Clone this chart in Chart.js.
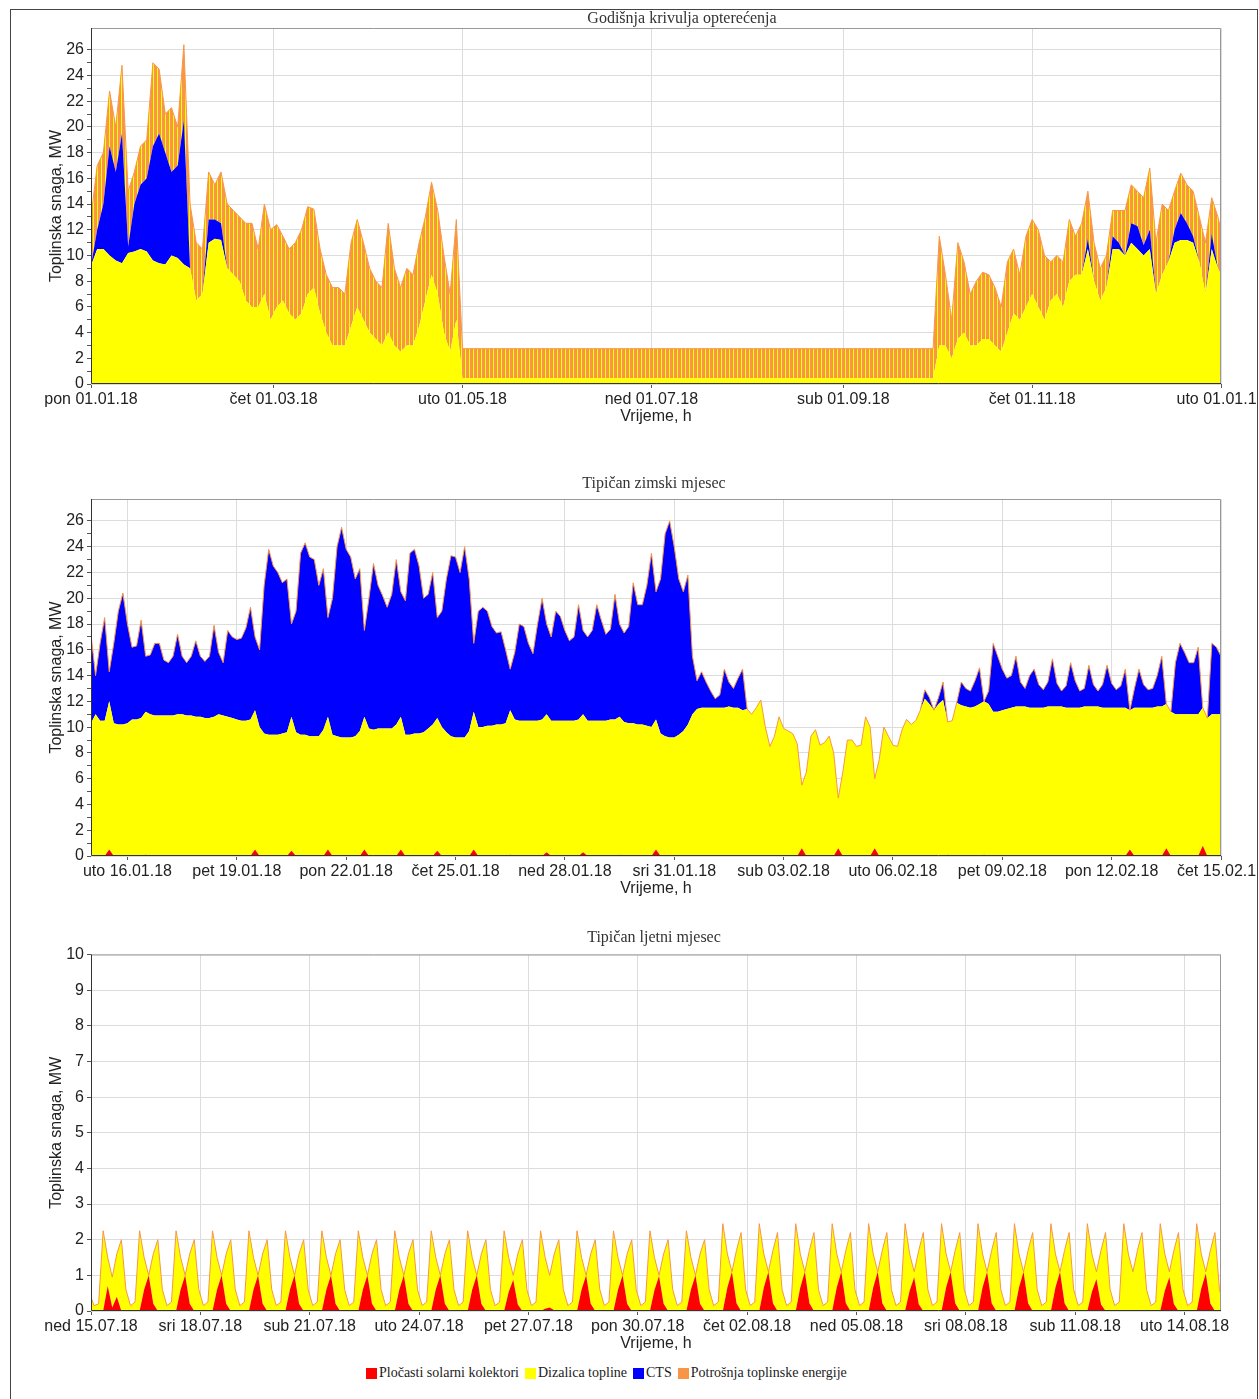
<!DOCTYPE html>
<html>
<head>
    <meta charset="utf-8">
    <title>Krivulje opterećenja</title>
    <script src="https://cdn.jsdelivr.net/npm/chart.js@4.4.1/dist/chart.umd.min.js"></script>
    <style>
        body {
            margin: 0;
            background: #fff;
            width: 1259px;
            height: 1399px;
            overflow: hidden;
        }
        .graf {
            position: absolute;
            left: 10px;
            width: 1247px;
        }
        #g1 { top: 9px; height: 421px; }
        #g2 { top: 470px; height: 432px; }
        #g3 { top: 925px; height: 432px; }
        #okvir {
            position: absolute;
            left: 10px;
            top: 9px;
            width: 1246px;
            height: 1400px;
            border: 1px solid #444;
            pointer-events: none;
        }
        #legenda {
            position: absolute;
            left: 366px;
            top: 1365px;
            display: flex;
            align-items: center;
            font: 14px 'Liberation Serif', 'Times New Roman', serif;
            color: #222;
            white-space: nowrap;
        }
        #legenda .kv {
            display: inline-block;
            width: 11px;
            height: 11px;
            margin-right: 2px;
        }
        #legenda .tx {
            margin-right: 6px;
        }
    </style>
</head>
<body>
    <div class="graf" id="g1"><canvas id="godisnja"></canvas></div>
    <div class="graf" id="g2"><canvas id="zima"></canvas></div>
    <div class="graf" id="g3"><canvas id="ljeto"></canvas></div>
    <div id="legenda"></div>
    <div id="okvir"></div>

    <script>
        const CRVENA = '#ff0000';
        const ZUTA = '#ffff00';
        const PLAVA = '#0000ff';
        const NARANCASTA = '#f79646';

        // Godišnja krivulja: vrijednost svaka 2 dana, dan 0 = 01.01.18
        const godDizalica = [
            9.2, 10.5, 10.5, 10.0, 9.6, 9.4, 10.2, 10.3, 10.5, 10.3,
            9.6, 9.4, 9.3, 10.0, 9.8, 9.3, 9.0, 6.5, 7.0, 11.0,
            11.3, 11.2, 9.0, 8.5, 8.0, 6.5, 6.0, 6.0, 7.0, 5.0,
            6.0, 6.5, 5.5, 5.0, 5.5, 7.0, 7.5, 5.5, 4.0, 3.0,
            3.0, 3.0, 4.5, 6.0, 5.0, 4.0, 3.5, 3.0, 4.0, 3.0,
            2.5, 3.0, 3.0, 4.5, 6.5, 8.5, 7.0, 4.0, 2.5, 5.0,
            0.45, 0.45, 0.45, 0.45, 0.45, 0.45, 0.45, 0.45, 0.45, 0.45,
            0.45, 0.45, 0.45, 0.45, 0.45, 0.45, 0.45, 0.45, 0.45, 0.45,
            0.45, 0.45, 0.45, 0.45, 0.45, 0.45, 0.45, 0.45, 0.45, 0.45,
            0.45, 0.45, 0.45, 0.45, 0.45, 0.45, 0.45, 0.45, 0.45, 0.45,
            0.45, 0.45, 0.45, 0.45, 0.45, 0.45, 0.45, 0.45, 0.45, 0.45,
            0.45, 0.45, 0.45, 0.45, 0.45, 0.45, 0.45, 0.45, 0.45, 0.45,
            0.45, 0.45, 0.45, 0.45, 0.45, 0.45, 0.45, 0.45, 0.45, 0.45,
            0.45, 0.45, 0.45, 0.45, 0.45, 0.45, 0.45,
            3.0, 3.0, 2.0, 3.5, 4.0, 3.0, 3.0, 3.5, 3.5, 3.0,
            2.5, 4.0, 5.5, 5.0, 6.0, 7.0, 6.0, 5.0, 6.5, 7.0,
            6.0, 8.0, 8.5, 8.5, 10.5, 8.0, 6.5, 7.5, 10.5, 10.5,
            10.0, 11.0, 10.5, 10.0, 10.5, 7.0, 8.5, 9.5, 11.0, 11.2,
            11.2, 11.0, 9.5, 7.0, 10.5, 9.0, 8.0
        ];
        const godCTS = [
            0, 1.5, 3.5, 8.5, 6.9, 10.1, 0.5, 3.7, 5.0, 5.7,
            8.9, 10.1, 8.7, 6.5, 7.2, 11.2, 0, 0, 0, 1.8,
            1.5, 1.3, 0, 0, 0, 0, 0, 0, 0, 0,
            0, 0, 0, 0, 0, 0, 0, 0, 0, 0,
            0, 0, 0, 0, 0, 0, 0, 0, 0, 0,
            0, 0, 0, 0, 0, 0, 0, 0, 0, 0,
            0, 0, 0, 0, 0, 0, 0, 0, 0, 0,
            0, 0, 0, 0, 0, 0, 0, 0, 0, 0,
            0, 0, 0, 0, 0, 0, 0, 0, 0, 0,
            0, 0, 0, 0, 0, 0, 0, 0, 0, 0,
            0, 0, 0, 0, 0, 0, 0, 0, 0, 0,
            0, 0, 0, 0, 0, 0, 0, 0, 0, 0,
            0, 0, 0, 0, 0, 0, 0, 0, 0, 0,
            0, 0, 0, 0, 0, 0, 0,
            0, 0, 0, 0, 0, 0, 0, 0, 0, 0,
            0, 0, 0, 0, 0, 0, 0, 0, 0, 0,
            0, 0, 0, 0, 0.8, 0, 0, 0, 1.0, 0.5,
            0, 1.5, 1.8, 0.8, 1.5, 0, 0, 0, 1.0, 2.1,
            1.3, 0.5, 0, 0, 1.2, 0, 0
        ];
        const godPotrosnja = [
            13.0, 17.0, 18.0, 22.8, 20.0, 24.8, 15.0, 16.5, 18.5, 19.0,
            25.0, 24.5, 21.0, 21.5, 20.0, 26.4, 14.0, 11.0, 10.5, 16.5,
            15.5, 16.5, 14.0, 13.5, 13.0, 12.5, 12.5, 10.5, 14.0, 12.0,
            12.4, 11.5, 10.5, 11.0, 12.0, 13.8, 13.6, 10.5, 8.5, 7.5,
            7.5, 7.0, 11.0, 12.8, 11.0, 9.0, 8.0, 7.5, 12.5, 9.0,
            7.5, 9.0, 8.5, 11.0, 13.0, 15.7, 13.5, 10.0, 7.0, 12.8,
            2.75, 2.75, 2.75, 2.75, 2.75, 2.75, 2.75, 2.75, 2.75, 2.75,
            2.75, 2.75, 2.75, 2.75, 2.75, 2.75, 2.75, 2.75, 2.75, 2.75,
            2.75, 2.75, 2.75, 2.75, 2.75, 2.75, 2.75, 2.75, 2.75, 2.75,
            2.75, 2.75, 2.75, 2.75, 2.75, 2.75, 2.75, 2.75, 2.75, 2.75,
            2.75, 2.75, 2.75, 2.75, 2.75, 2.75, 2.75, 2.75, 2.75, 2.75,
            2.75, 2.75, 2.75, 2.75, 2.75, 2.75, 2.75, 2.75, 2.75, 2.75,
            2.75, 2.75, 2.75, 2.75, 2.75, 2.75, 2.75, 2.75, 2.75, 2.75,
            2.75, 2.75, 2.75, 2.75, 2.75, 2.75, 2.75,
            11.5, 8.5, 5.0, 11.0, 9.5, 7.0, 8.0, 8.7, 8.5, 7.5,
            6.0, 9.5, 10.5, 8.5, 11.5, 12.8, 12.0, 10.0, 9.5, 10.0,
            9.5, 12.8, 11.5, 12.5, 15.0, 11.0, 9.0, 10.0, 13.5, 13.5,
            13.5, 15.5, 15.0, 14.5, 16.8, 11.0, 14.0, 13.5, 15.0, 16.4,
            15.5, 15.0, 13.0, 11.0, 14.5, 13.0, 11.0
        ];
        const godTickovi = [0, 59, 120, 181, 243, 304, 365];
        const godOznake = ['pon 01.01.18', 'čet 01.03.18', 'uto 01.05.18', 'ned 01.07.18',
            'sub 01.09.18', 'čet 01.11.18', 'uto 01.01.19'];

        // Tipičan zimski mjesec: svaka 3 sata od 15.01.18 00:00 (8 vrijednosti po danu)
        const zimaSolar = [
            0, 0, 0, 0, 0.5, 0, 0, 0,
            0, 0, 0, 0, 0.1, 0, 0, 0,
            0, 0, 0, 0, 0, 0, 0, 0,
            0, 0, 0, 0, 0, 0, 0, 0,
            0, 0, 0, 0, 0.5, 0, 0, 0,
            0, 0, 0, 0, 0.4, 0, 0, 0,
            0, 0, 0, 0, 0.5, 0, 0, 0,
            0, 0, 0, 0, 0.5, 0, 0, 0,
            0, 0, 0, 0, 0.5, 0, 0, 0,
            0, 0, 0, 0, 0.4, 0, 0, 0,
            0, 0, 0, 0, 0.5, 0, 0, 0,
            0, 0, 0, 0, 0.1, 0, 0, 0,
            0, 0, 0, 0, 0.3, 0, 0, 0,
            0, 0, 0, 0, 0.3, 0, 0, 0,
            0, 0, 0, 0, 0.1, 0, 0, 0,
            0, 0, 0, 0, 0.5, 0, 0, 0,
            0, 0, 0, 0, 0, 0, 0, 0,
            0, 0, 0, 0, 0, 0, 0, 0,
            0, 0, 0, 0, 0, 0, 0, 0,
            0, 0, 0, 0, 0.6, 0, 0, 0,
            0, 0, 0, 0, 0.6, 0, 0, 0,
            0, 0, 0, 0, 0.6, 0, 0, 0,
            0, 0, 0, 0, 0, 0, 0, 0,
            0, 0, 0, 0, 0.1, 0, 0, 0,
            0, 0, 0, 0, 0.1, 0, 0, 0,
            0, 0, 0, 0, 0, 0, 0, 0,
            0, 0, 0, 0, 0, 0, 0, 0,
            0, 0, 0, 0, 0, 0, 0, 0,
            0, 0, 0, 0, 0.5, 0, 0, 0,
            0, 0, 0, 0, 0.6, 0, 0, 0,
            0, 0, 0, 0, 0.8, 0, 0, 0,
            0
        ];
        const zimaDizalica = [
            10.3, 11.0, 10.5, 10.5, 11.5, 10.3, 10.2, 10.2,
            10.3, 10.6, 10.6, 10.7, 11.1, 11.0, 10.9, 10.9,
            10.9, 10.9, 10.9, 11.0, 11.0, 10.9, 10.9, 10.8,
            10.8, 10.7, 10.7, 10.8, 11.0, 10.9, 10.8, 10.7,
            10.6, 10.5, 10.5, 10.6, 10.8, 10.0, 9.5, 9.4,
            9.4, 9.4, 9.5, 9.6, 10.4, 9.6, 9.4, 9.4,
            9.3, 9.3, 9.3, 9.8, 10.3, 9.4, 9.3, 9.2,
            9.2, 9.2, 9.3, 9.7, 10.3, 9.9, 9.8, 9.9,
            9.9, 9.9, 9.9, 10.2, 10.3, 9.4, 9.4, 9.5,
            9.5, 9.6, 9.9, 10.2, 10.3, 10.0, 9.6, 9.3,
            9.2, 9.2, 9.2, 9.7, 10.7, 10.0, 10.0, 10.1,
            10.1, 10.2, 10.2, 10.3, 11.2, 10.6, 10.5, 10.5,
            10.5, 10.5, 10.5, 10.6, 10.7, 10.5, 10.5, 10.5,
            10.5, 10.5, 10.5, 10.6, 10.7, 10.5, 10.5, 10.5,
            10.5, 10.5, 10.6, 10.6, 10.7, 10.4, 10.3, 10.3,
            10.2, 10.2, 10.1, 10.0, 10.1, 9.5, 9.3, 9.2,
            9.2, 9.4, 9.7, 10.2, 11.0, 11.4, 11.5, 11.5,
            11.5, 11.5, 11.5, 11.5, 11.6, 11.5, 11.5, 11.3,
            11.4, 11.0, 11.5, 12.1, 10.0, 8.5, 9.3, 10.8,
            9.9, 9.7, 9.5, 8.7, 4.9, 6.5, 9.3, 9.8,
            8.6, 8.8, 9.3, 8.0, 3.9, 6.5, 9.0, 9.0,
            8.5, 8.6, 10.8, 10.0, 5.4, 7.5, 10.0, 9.3,
            8.6, 8.5, 9.8, 10.6, 10.2, 10.5, 11.3, 12.2,
            11.8, 11.3, 11.8, 12.1, 10.3, 10.5, 11.9, 11.7,
            11.6, 11.5, 11.6, 11.8, 11.9, 11.8, 11.2, 11.2,
            11.3, 11.4, 11.5, 11.6, 11.6, 11.6, 11.5, 11.5,
            11.5, 11.5, 11.6, 11.6, 11.6, 11.6, 11.5, 11.5,
            11.5, 11.5, 11.6, 11.6, 11.6, 11.6, 11.5, 11.5,
            11.5, 11.5, 11.5, 11.5, 10.8, 11.5, 11.5, 11.5,
            11.5, 11.5, 11.6, 11.6, 11.2, 11.2, 11.0, 11.0,
            11.0, 11.0, 11.0, 11.0, 10.7, 10.7, 11.0, 11.0,
            11.0
        ];
        const zimaCTS = [
            6.9, 3.0, 6.0, 8.0, 2.3, 6.2, 8.8, 10.2,
            7.7, 5.6, 5.7, 7.6, 4.3, 4.6, 5.6, 5.6,
            4.3, 4.1, 4.6, 6.2, 4.5, 4.1, 4.6, 5.9,
            4.7, 4.4, 4.8, 7.1, 4.8, 4.1, 6.7, 6.3,
            6.2, 6.4, 7.2, 8.7, 5.7, 6.0, 11.5, 14.4,
            13.1, 12.6, 11.7, 11.9, 7.2, 9.4, 14.1, 14.9,
            13.9, 13.7, 11.7, 12.5, 7.7, 10.6, 14.7, 16.3,
            14.6, 14.0, 12.2, 12.6, 6.7, 10.1, 12.9, 11.1,
            10.3, 9.4, 10.4, 12.8, 9.7, 10.4, 14.1, 14.3,
            13.0, 10.4, 10.4, 11.8, 7.8, 9.0, 11.9, 14.0,
            14.0, 12.8, 14.8, 11.8, 5.3, 9.0, 9.3, 8.9,
            7.7, 7.1, 7.2, 5.7, 3.2, 5.2, 7.5, 7.3,
            6.0, 5.2, 7.5, 9.4, 7.0, 6.5, 8.5, 8.1,
            7.0, 6.2, 6.5, 8.9, 6.5, 6.5, 7.0, 9.0,
            7.8, 6.7, 7.0, 9.7, 7.2, 6.9, 7.5, 10.9,
            9.3, 9.3, 10.9, 13.5, 9.9, 12.0, 15.7, 16.8,
            14.8, 12.1, 10.8, 11.6, 4.5, 2.2, 2.8, 2.0,
            1.3, 0.7, 1.0, 3.0, 1.9, 1.5, 2.3, 3.2,
            0, 0, 0, 0, 0, 0, 0, 0,
            0, 0, 0, 0, 0, 0, 0, 0,
            0, 0, 0, 0, 0, 0, 0, 0,
            0, 0, 0, 0, 0, 0, 0, 0,
            0, 0, 0, 0, 0, 0, 0, 0.7,
            0.5, 0, 0.5, 1.4, 0, 0, 0, 1.8,
            1.4, 1.3, 2.0, 2.8, 0, 1.0, 5.3, 4.3,
            3.2, 2.4, 2.5, 3.9, 1.9, 1.4, 2.5, 3.0,
            1.8, 1.4, 1.9, 3.7, 1.8, 1.2, 1.7, 3.5,
            2.1, 1.3, 1.4, 3.2, 1.7, 1.2, 1.8, 3.3,
            1.9, 1.4, 1.7, 3.0, 0, 1.5, 3.0, 1.8,
            1.4, 1.5, 2.4, 3.9, 0, 0, 4.0, 5.5,
            4.8, 4.0, 4.0, 5.2, 0, 0, 5.5, 5.2,
            4.5
        ];
        const zimaTickovi = [24, 96, 168, 240, 312, 384, 456, 528, 600, 672, 744];
        const zimaOznake = ['uto 16.01.18', 'pet 19.01.18', 'pon 22.01.18', 'čet 25.01.18',
            'ned 28.01.18', 'sri 31.01.18', 'sub 03.02.18', 'uto 06.02.18', 'pet 09.02.18',
            'pon 12.02.18', 'čet 15.02.18'];

        // Tipičan ljetni mjesec: svaka 3 sata od 14.07.18 23:00 (sati 2,5,8,...,23 po danu)
        const ljetoSolar = [
            0,
            0, 0, 0, 0.7, 0.1, 0.4, 0, 0,
            0, 0, 0, 0.6, 1.0, 0.2, 0, 0,
            0, 0, 0, 0.6, 1.0, 0.2, 0, 0,
            0, 0, 0, 0.6, 1.0, 0.2, 0, 0,
            0, 0, 0, 0.6, 1.0, 0.2, 0, 0,
            0, 0, 0, 0.6, 1.0, 0.2, 0, 0,
            0, 0, 0, 0.6, 1.0, 0.2, 0, 0,
            0, 0, 0, 0.6, 1.0, 0.2, 0, 0,
            0, 0, 0, 0.6, 1.0, 0.2, 0, 0,
            0, 0, 0, 0.6, 1.0, 0.2, 0, 0,
            0, 0, 0, 0.6, 1.0, 0.2, 0, 0,
            0, 0, 0, 0.53, 0.88, 0.18, 0, 0,
            0, 0, 0, 0.06, 0.1, 0.02, 0, 0,
            0, 0, 0, 0.6, 1.0, 0.2, 0, 0,
            0, 0, 0, 0.6, 1.0, 0.2, 0, 0,
            0, 0, 0, 0.59, 0.98, 0.2, 0, 0,
            0, 0, 0, 0.6, 1.0, 0.2, 0, 0,
            0, 0, 0, 0.66, 1.1, 0.22, 0, 0,
            0, 0, 0, 0.66, 1.1, 0.22, 0, 0,
            0, 0, 0, 0.66, 1.1, 0.22, 0, 0,
            0, 0, 0, 0.66, 1.1, 0.22, 0, 0,
            0, 0, 0, 0.66, 1.1, 0.22, 0, 0,
            0, 0, 0, 0.57, 0.95, 0.19, 0, 0,
            0, 0, 0, 0.66, 1.1, 0.22, 0, 0,
            0, 0, 0, 0.66, 1.1, 0.22, 0, 0,
            0, 0, 0, 0.66, 1.1, 0.22, 0, 0,
            0, 0, 0, 0.66, 1.1, 0.22, 0, 0,
            0, 0, 0, 0.54, 0.9, 0.18, 0, 0,
            0, 0, 0, 0, 0, 0, 0, 0,
            0, 0, 0, 0.57, 0.95, 0.19, 0, 0,
            0, 0, 0, 0.63, 1.05, 0.21, 0, 0,
            0
        ];
        const ljetoDizalica = [
            0.5,
            0.15, 0.2, 2.25, 0.8, 0.85, 1.2, 2.0, 0.6,
            0.15, 0.25, 2.25, 0.9, 0, 1.4, 2.0, 0.6,
            0.15, 0.25, 2.25, 0.9, 0, 1.4, 2.0, 0.6,
            0.15, 0.25, 2.25, 0.9, 0, 1.4, 2.0, 0.6,
            0.15, 0.25, 2.25, 0.9, 0, 1.4, 2.0, 0.6,
            0.15, 0.25, 2.25, 0.9, 0, 1.4, 2.0, 0.6,
            0.15, 0.25, 2.25, 0.9, 0, 1.4, 2.0, 0.6,
            0.15, 0.25, 2.25, 0.9, 0, 1.4, 2.0, 0.6,
            0.15, 0.25, 2.25, 0.9, 0, 1.4, 2.0, 0.6,
            0.15, 0.25, 2.25, 0.9, 0, 1.4, 2.0, 0.6,
            0.15, 0.25, 2.25, 0.9, 0, 1.4, 2.0, 0.6,
            0.15, 0.25, 2.25, 0.97, 0.12, 1.42, 2.0, 0.6,
            0.15, 0.25, 2.25, 1.44, 0.9, 1.58, 2.0, 0.6,
            0.15, 0.25, 2.25, 0.9, 0, 1.4, 2.0, 0.6,
            0.15, 0.25, 2.25, 0.9, 0, 1.4, 2.0, 0.6,
            0.15, 0.25, 2.25, 0.91, 0.02, 1.4, 2.0, 0.6,
            0.15, 0.25, 2.25, 0.9, 0, 1.4, 2.0, 0.6,
            0.15, 0.25, 2.45, 0.94, 0, 1.48, 2.2, 0.6,
            0.15, 0.25, 2.45, 0.94, 0, 1.48, 2.2, 0.6,
            0.15, 0.25, 2.45, 0.94, 0, 1.48, 2.2, 0.6,
            0.15, 0.25, 2.45, 0.94, 0, 1.48, 2.2, 0.6,
            0.15, 0.25, 2.45, 0.94, 0, 1.48, 2.2, 0.6,
            0.15, 0.25, 2.45, 1.03, 0.15, 1.51, 2.2, 0.6,
            0.15, 0.25, 2.45, 0.94, 0, 1.48, 2.2, 0.6,
            0.15, 0.25, 2.45, 0.94, 0, 1.48, 2.2, 0.6,
            0.15, 0.25, 2.45, 0.94, 0, 1.48, 2.2, 0.6,
            0.15, 0.25, 2.45, 0.94, 0, 1.48, 2.2, 0.6,
            0.15, 0.25, 2.45, 1.06, 0.2, 1.52, 2.2, 0.6,
            0.15, 0.25, 2.45, 1.6, 1.1, 1.7, 2.2, 0.6,
            0.15, 0.25, 2.45, 1.03, 0.15, 1.51, 2.2, 0.6,
            0.15, 0.25, 2.45, 0.97, 0.05, 1.49, 2.2, 0.6,
            0.15
        ];
        const ljetoTickovi = [0, 72, 144, 216, 288, 360, 432, 504, 576, 648, 720];
        const ljetoOznake = ['ned 15.07.18', 'sri 18.07.18', 'sub 21.07.18', 'uto 24.07.18',
            'pet 27.07.18', 'pon 30.07.18', 'čet 02.08.18', 'ned 05.08.18', 'sri 08.08.18',
            'sub 11.08.18', 'uto 14.08.18'];

        const legenda = [
            ['Pločasti solarni kolektori', CRVENA],
            ['Dizalica topline', ZUTA],
            ['CTS', PLAVA],
            ['Potrošnja toplinske energije', NARANCASTA]
        ];

        Chart.defaults.font.family = "'Liberation Sans', Arial, sans-serif";
        Chart.defaults.font.size = 16;
        Chart.defaults.color = '#222';
        Chart.defaults.animation = false;
        Chart.defaults.plugins.legend.display = false;
        Chart.defaults.plugins.tooltip.enabled = false;

        // rub područja crtanja: gore i desno sivo, lijevo i dolje tamno
        const rubPlota = {
            id: 'rubPlota',
            afterDatasetsDraw(chart) {
                const { ctx, chartArea: a } = chart;
                ctx.save();
                ctx.lineWidth = 1;
                ctx.strokeStyle = '#999';
                ctx.beginPath();
                ctx.moveTo(a.left, a.top + 0.5);
                ctx.lineTo(a.right - 0.5, a.top + 0.5);
                ctx.lineTo(a.right - 0.5, a.bottom);
                ctx.stroke();
                ctx.strokeStyle = '#333';
                ctx.beginPath();
                ctx.moveTo(a.left + 0.5, a.top);
                ctx.lineTo(a.left + 0.5, a.bottom - 0.5);
                ctx.lineTo(a.right, a.bottom - 0.5);
                ctx.stroke();
                ctx.restore();
            }
        };

        // naslov grafa na zadanom mjestu (serifni font kao u izvorniku)
        const naslov = {
            id: 'naslov',
            afterDraw(chart, args, o) {
                const ctx = chart.ctx;
                ctx.save();
                ctx.font = "16px 'Liberation Serif', 'Times New Roman', serif";
                ctx.fillStyle = '#333';
                ctx.textAlign = 'center';
                ctx.textBaseline = 'middle';
                ctx.fillText(o.tekst, o.x, o.y);
                ctx.restore();
            }
        };

        function yOs(max, svakiDrugi) {
            const vidljiv = v => Number.isInteger(v) && (!svakiDrugi || v % 2 === 0);
            return {
                stacked: true,
                min: 0,
                max: max,
                afterFit: s => { s.width = 81; },
                ticks: {
                    stepSize: 1,
                    autoSkip: false,
                    padding: 3,
                    font: { size: 16 },
                    callback: v => vidljiv(v) ? v : ''
                },
                grid: {
                    color: c => vidljiv(c.tick.value) ? '#dcdcdc' : 'rgba(0,0,0,0)',
                    tickColor: c => Number.isInteger(c.tick.value) ? '#555' : 'rgba(0,0,0,0)',
                    tickLength: 4
                },
                border: { display: false },
                title: {
                    display: true,
                    text: 'Toplinska snaga, MW',
                    font: { size: 16 },
                    padding: { top: 37, bottom: 0 }
                }
            };
        }

        function xOs(max, tickovi, oznake) {
            return {
                type: 'linear',
                min: 0,
                max: max,
                afterBuildTicks: s => { s.ticks = tickovi.map(v => ({ value: v })); },
                afterFit: s => { s.height = 46; s.paddingLeft = 0; s.paddingRight = 0; },
                ticks: {
                    autoSkip: false,
                    maxRotation: 0,
                    padding: 2,
                    font: { size: 16 },
                    callback: (v, i) => oznake[i]
                },
                grid: { color: '#dcdcdc', tickColor: '#555', tickLength: 4 },
                border: { display: false },
                title: {
                    display: true,
                    text: 'Vrijeme, h',
                    font: { size: 16 },
                    padding: { top: 0, bottom: 3.5 }
                }
            };
        }

        function opcije(tekst, vrh, nx, ny, x, y) {
            return {
                responsive: true,
                maintainAspectRatio: false,
                devicePixelRatio: 1,
                events: [],
                layout: { padding: { left: 0, right: 36, top: vrh, bottom: 0 } },
                elements: { point: { radius: 0 }, line: { tension: 0 } },
                scales: { x: x, y: y },
                plugins: {
                    filler: { drawTime: 'beforeDatasetsDraw' },
                    naslov: { tekst: tekst, x: nx, y: ny }
                }
            };
        }

        // gusto titranje potrošnje u godišnjem prikazu: pruge narančasto/žuto
        const pc = document.createElement('canvas');
        pc.width = 4;
        pc.height = 1;
        const pctx = pc.getContext('2d');
        pctx.fillStyle = NARANCASTA;
        pctx.fillRect(0, 0, 3, 1);
        pctx.fillStyle = ZUTA;
        pctx.fillRect(3, 0, 1, 1);
        const pruge = pctx.createPattern(pc, 'repeat');

        new Chart(document.getElementById('godisnja'), {
            type: 'line',
            data: {
                labels: godPotrosnja.map((_, i) => i * 2),
                datasets: [
                    { label: 'Dizalica topline', data: godDizalica, stack: 'a', fill: 'origin',
                      backgroundColor: ZUTA, borderWidth: 0 },
                    { label: 'CTS', data: godCTS, stack: 'a', fill: '-1',
                      backgroundColor: PLAVA, borderWidth: 0 },
                    { label: 'Potrošnja toplinske energije', data: godPotrosnja, stack: 'p', fill: '-1',
                      backgroundColor: pruge, borderColor: NARANCASTA, borderWidth: 1 }
                ]
            },
            options: opcije('Godišnja krivulja opterećenja', 19, 672, 10,
                xOs(365, godTickovi, godOznake), yOs(27.7, true)),
            plugins: [rubPlota, naslov]
        });

        new Chart(document.getElementById('zima'), {
            type: 'line',
            data: {
                labels: zimaCTS.map((_, i) => i * 3),
                datasets: [
                    { label: 'Pločasti solarni kolektori', data: zimaSolar, stack: 'a', fill: 'origin',
                      backgroundColor: CRVENA, borderWidth: 0 },
                    { label: 'Dizalica topline', data: zimaDizalica, stack: 'a', fill: '-1',
                      backgroundColor: ZUTA, borderWidth: 0 },
                    { label: 'CTS', data: zimaCTS, stack: 'a', fill: '-1',
                      backgroundColor: PLAVA, borderColor: NARANCASTA, borderWidth: 1 }
                ]
            },
            options: opcije('Tipičan zimski mjesec', 29, 644, 13.5,
                xOs(744, zimaTickovi, zimaOznake), yOs(27.7, true)),
            plugins: [rubPlota, naslov]
        });

        new Chart(document.getElementById('ljeto'), {
            type: 'line',
            data: {
                labels: ljetoDizalica.map((_, i) => i * 3 - 1),
                datasets: [
                    { label: 'Pločasti solarni kolektori', data: ljetoSolar, stack: 'a', fill: 'origin',
                      backgroundColor: CRVENA, borderWidth: 0 },
                    { label: 'Dizalica topline', data: ljetoDizalica, stack: 'a', fill: '-1',
                      backgroundColor: ZUTA, borderColor: NARANCASTA, borderWidth: 1 }
                ]
            },
            options: opcije('Tipičan ljetni mjesec', 29.5, 644, 13,
                xOs(744, ljetoTickovi, ljetoOznake), yOs(10, false)),
            plugins: [rubPlota, naslov]
        });

        const leg = document.getElementById('legenda');
        legenda.forEach(([naziv, boja]) => {
            const kv = document.createElement('span');
            kv.className = 'kv';
            kv.style.background = boja;
            const tx = document.createElement('span');
            tx.className = 'tx';
            tx.textContent = naziv;
            leg.appendChild(kv);
            leg.appendChild(tx);
        });
    </script>
</body>
</html>
